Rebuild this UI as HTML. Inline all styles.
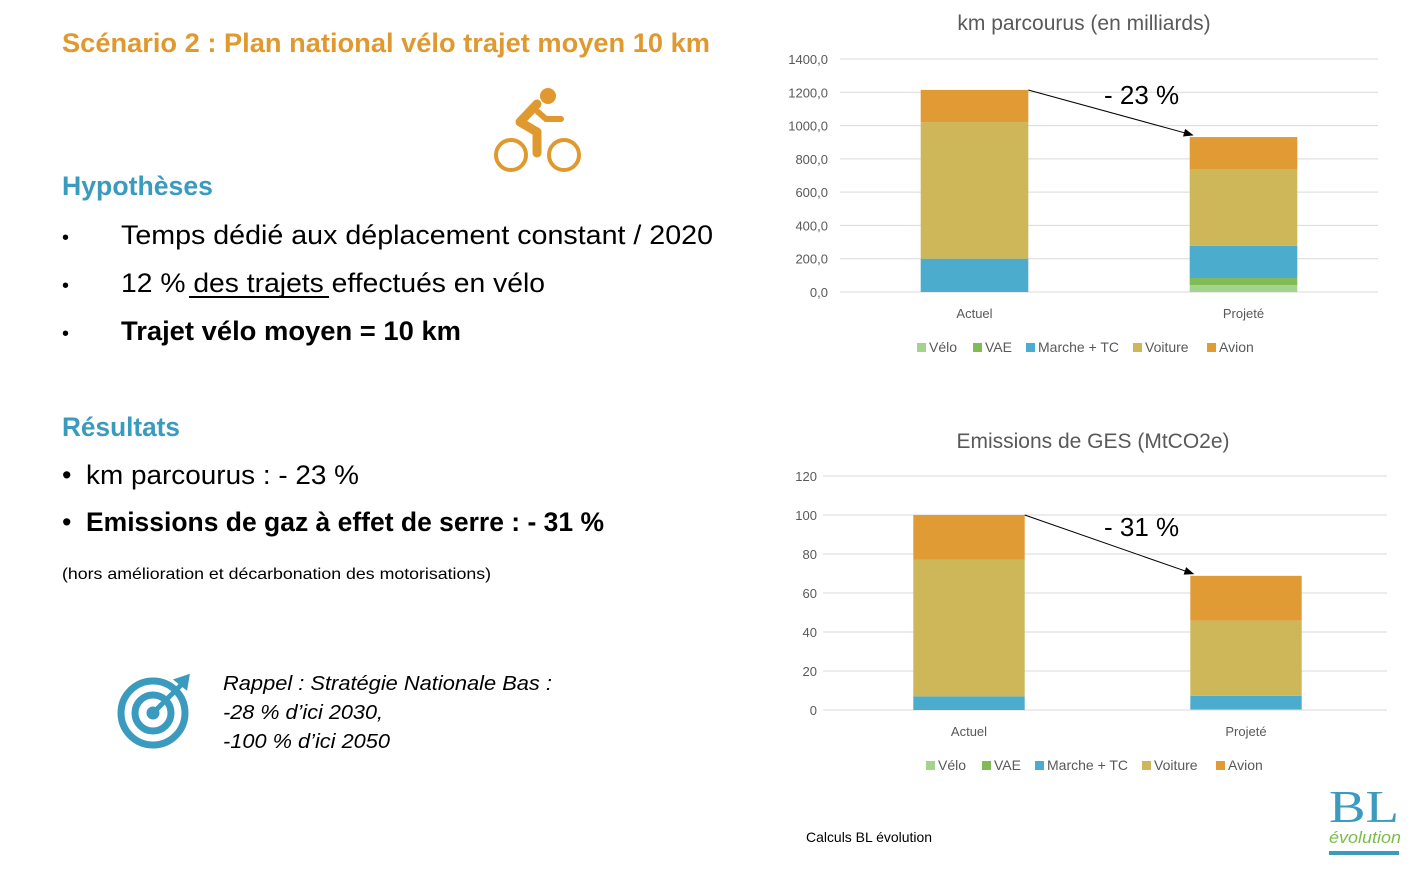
<!DOCTYPE html>
<html><head><meta charset="utf-8"><style>
body{margin:0;background:#fff;width:1413px;height:871px;overflow:hidden}
svg{display:block;font-family:"Liberation Sans",sans-serif}
</style></head><body>
<svg id="page" width="1413" height="871" viewBox="0 0 1413 871">
<defs><marker id="arr" markerWidth="10" markerHeight="8" refX="9" refY="4" orient="auto"><path d="M0,0 L10,4 L0,8 z" fill="#000"/></marker></defs>
<text x="62" y="52" font-size="27" font-weight="bold" fill="#E0992E" textLength="648" lengthAdjust="spacingAndGlyphs">Scénario 2 : Plan national vélo trajet moyen 10 km</text>
<g fill="none" stroke="#E0992E" stroke-width="4">
<circle cx="511" cy="155" r="15"/><circle cx="564" cy="155" r="15"/>
<circle cx="548" cy="96" r="8" fill="#E0992E" stroke="none"/>
<path d="M537,104 L520,122 L537,132 L537,153" stroke-width="9" stroke-linecap="round" stroke-linejoin="round"/>
<path d="M538,112 L546,119 L561,119" stroke-width="6" stroke-linecap="round"/>
</g>
<text x="62" y="195" font-size="27" font-weight="bold" fill="#3A9BBF" textLength="151" lengthAdjust="spacingAndGlyphs">Hypothèses</text>
<g font-size="27" fill="#000">
<text x="62" y="244" font-size="20">•</text><text x="121" y="244" textLength="592" lengthAdjust="spacingAndGlyphs">Temps dédié aux déplacement constant / 2020</text>
<text x="62" y="292" font-size="20">•</text><text x="121" y="292" textLength="424" lengthAdjust="spacingAndGlyphs">12 % des trajets effectués en vélo</text>
<line x1="189" y1="297" x2="329" y2="297" stroke="#000" stroke-width="2"/>
<text x="62" y="340" font-size="20">•</text><text x="121" y="340" font-weight="bold" textLength="340" lengthAdjust="spacingAndGlyphs">Trajet vélo moyen = 10 km</text>
</g>
<text x="62" y="436" font-size="27" font-weight="bold" fill="#3A9BBF" textLength="118" lengthAdjust="spacingAndGlyphs">Résultats</text>
<g font-size="27" fill="#000">
<text x="62" y="484">•</text><text x="86" y="484" textLength="273" lengthAdjust="spacingAndGlyphs">km parcourus : - 23 %</text>
<text x="62" y="531">•</text><text x="86" y="531" font-weight="bold" textLength="518" lengthAdjust="spacingAndGlyphs">Emissions de gaz à effet de serre : - 31 %</text>
</g>
<text x="62" y="579" font-size="16" textLength="429" lengthAdjust="spacingAndGlyphs">(hors amélioration et décarbonation des motorisations)</text>
<g fill="none" stroke="#3A9BBF">
<circle cx="153" cy="713" r="32" stroke-width="7"/><circle cx="153" cy="713" r="18" stroke-width="7"/><circle cx="153" cy="713" r="6" fill="#3A9BBF"/>
<path d="M153,713 L183,683" stroke-width="5"/><path d="M176,680 L188,676 L186,688 Z" fill="#3A9BBF" stroke-width="3"/>
</g>
<g font-size="20" font-style="italic" fill="#000">
<text x="223" y="690" textLength="329" lengthAdjust="spacingAndGlyphs">Rappel : Stratégie Nationale Bas :</text>
<text x="223" y="719" textLength="160" lengthAdjust="spacingAndGlyphs">-28 % d’ici 2030,</text>
<text x="223" y="748" textLength="167" lengthAdjust="spacingAndGlyphs">-100 % d’ici 2050</text>
</g>
<text x="806" y="842" font-size="14" textLength="126" lengthAdjust="spacingAndGlyphs">Calculs BL évolution</text>
<g>
<text x="1329" y="822" font-family="Liberation Serif" font-size="46" fill="#3A9BBF" textLength="70" lengthAdjust="spacingAndGlyphs">BL</text>
<text x="1329" y="843" font-size="17" font-style="italic" fill="#7DBB4A" textLength="72" lengthAdjust="spacingAndGlyphs">évolution</text>
<rect x="1329" y="851" width="70" height="4" fill="#3A9BBF"/>
</g>
<g id="c1"></g>
<g id="c2"></g>
</svg>
<script>
const categories=["Actuel","Projeté"];
const seriesNames=["Vélo","VAE","Marche + TC","Voiture","Avion"];
const colors=["#A2D58B","#82BA56","#4BACCD","#CEB758","#E09B35"];
const kmVelo=[0,42];
const kmVae=[0,42];
const kmMarche=[200,194];
const kmVoiture=[821,461];
const kmAvion=[193,192];
const kmTicks=[0,200,400,600,800,1000,1200,1400];
const kmTickLabels=["0,0","200,0","400,0","600,0","800,0","1000,0","1200,0","1400,0"];
const gesVelo=[0,0.3];
const gesVae=[0,0.2];
const gesMarche=[7,6.8];
const gesVoiture=[70,38.5];
const gesAvion=[23,23];
const gesTicks=[0,20,40,60,80,100,120];
const gesTickLabels=["0","20","40","60","80","100","120"];
const NS="http://www.w3.org/2000/svg";
function mk(parent,tag,attrs,text){const e=document.createElementNS(NS,tag);for(const k in attrs)e.setAttribute(k,attrs[k]);if(text!==undefined)e.textContent=text;parent.appendChild(e);return e;}
function draw(gid,cfg){
  const g=document.getElementById(gid);
  const y=v=>cfg.y0-(v/cfg.max)*(cfg.y0-cfg.y1);
  const band=(cfg.x1-cfg.x0)/categories.length;
  const cx=i=>cfg.x0+band*(i+0.5)+(cfg.shift||0)*(1-i);
  const t=mk(g,'text',{x:cfg.titleX,y:cfg.titleY,'font-size':21,fill:'#595959','text-anchor':'middle'},cfg.title);
  
  
  cfg.ticks.forEach((v,i)=>{
    const l=mk(g,'line',{x1:cfg.x0,x2:cfg.x1,y1:y(v),y2:y(v),stroke:'#D9D9D9','stroke-width':1});
    
    
    const tl=mk(g,'text',{x:cfg.labelX,y:y(v)+5,'font-size':13,fill:'#595959','text-anchor':'end'},cfg.tickLabels[i]);
    
    
  });
  const bw=band*cfg.bar;
  categories.forEach((c,i)=>{
    let acc=0;
    cfg.series.forEach((s,k)=>{
      const v=s[i]; if(v<=0) return;
      const r=mk(g,'rect',{x:cx(i)-bw/2,y:y(acc+v),width:bw,height:y(acc)-y(acc+v),fill:colors[k]});
      
      
      acc+=v;
    });
    const xl=mk(g,'text',{x:cx(i),y:cfg.y0+26,'font-size':13,fill:'#595959','text-anchor':'middle'},c);
    
    
  });
  const tot=i=>cfg.series.reduce((a,s)=>a+s[i],0);
  const a=mk(g,'line',{x1:cx(0)+bw/2,y1:y(tot(0)),x2:cx(1)-bw/2+3,y2:y(tot(1))-2,stroke:'#000','stroke-width':1,'marker-end':'url(#arr)'});
  
  
  const at=mk(g,'text',{x:cfg.pctX,y:cfg.pctY,'font-size':26,fill:'#000'},cfg.pct);
  
  
  let lx=cfg.legX;
  const widths=[56,53,107,74,50];
  seriesNames.forEach((n,k)=>{
    const r=mk(g,'rect',{x:lx,y:cfg.legY-9,width:9,height:9,fill:colors[k]});
    
    
    const tx=mk(g,'text',{x:lx+12,y:cfg.legY,'font-size':14,fill:'#595959'},n);
    
    
    lx+=widths[k];
  });
}
draw('c1',{title:'km parcourus (en milliards)',titleX:1084,titleY:30,x0:840,x1:1378,y0:292,y1:59,max:1400,ticks:kmTicks,tickLabels:kmTickLabels,labelX:828,bar:0.4,series:[kmVelo,kmVae,kmMarche,kmVoiture,kmAvion],pct:'- 23 %',pctX:1104,pctY:104,legX:917,legY:352});
draw('c2',{title:'Emissions de GES (MtCO2e)',titleX:1093,titleY:448,x0:823,x1:1387,y0:710,y1:476,max:120,ticks:gesTicks,tickLabels:gesTickLabels,labelX:817,bar:0.395,shift:5,series:[gesVelo,gesVae,gesMarche,gesVoiture,gesAvion],pct:'- 31 %',pctX:1104,pctY:536,legX:926,legY:770});
</script>
</body></html>
